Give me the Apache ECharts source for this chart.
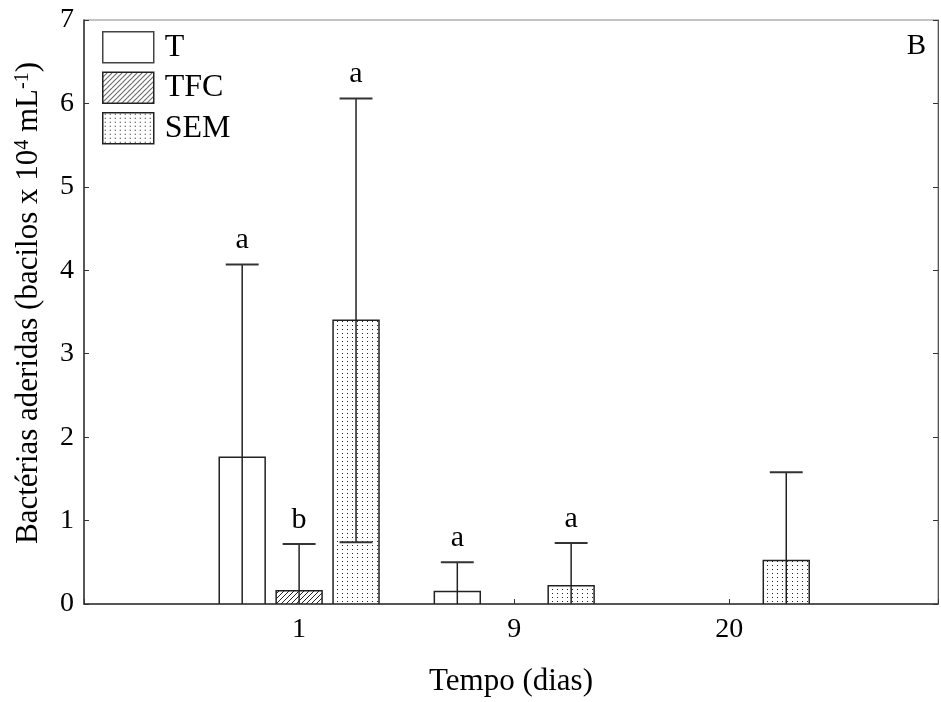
<!DOCTYPE html>
<html><head><meta charset="utf-8">
<script src="https://cdn.jsdelivr.net/npm/echarts@6/dist/echarts.min.js"></script>
<style>html,body{margin:0;padding:0;background:#fff}#c{width:941px;height:702px}</style>
</head><body><div id="c"></div>
<script>
// ---- data ----
const categories = ['1', '9', '20'];
const seriesNames = ['T', 'TFC', 'SEM'];
const valuesT = [1.76, 0.15, 0];
const valuesTFC = [0.16, 0, 0];
const valuesSEM = [3.40, 0.22, 0.52];
const errT = [2.31, 0.35, 0];
const errTFC = [0.56, 0, 0];
const errSEM = [2.66, 0.51, 1.06];
const lettersT = ['a', 'a', ''];
const lettersTFC = ['b', '', ''];
const lettersSEM = ['a', 'a', ''];
const yMin = 0, yMax = 7, yStep = 1;
const panelLabel = 'B';

// ---- patterns ----
function hatchCanvas() {
  const s = 5, c = document.createElement('canvas'); c.width = c.height = s;
  const g = c.getContext('2d');
  g.fillStyle = '#fff'; g.fillRect(0, 0, s, s);
  g.strokeStyle = '#222'; g.lineWidth = 1;
  g.beginPath();
  g.moveTo(-1, s + 1); g.lineTo(s + 1, -1);
  g.moveTo(-1, 1); g.lineTo(1, -1);
  g.moveTo(s - 1, s + 1); g.lineTo(s + 1, s - 1);
  g.stroke();
  return c;
}
function dotCanvas() {
  const c = document.createElement('canvas'); c.width = 5; c.height = 4;
  const g = c.getContext('2d');
  g.fillStyle = '#fff'; g.fillRect(0, 0, 5, 4);
  g.fillStyle = '#222'; g.fillRect(2, 1, 1, 1);
  return c;
}
const fills = ['#ffffff', { image: hatchCanvas(), repeat: 'repeat' }, { image: dotCanvas(), repeat: 'repeat' }];
const FONT = '"Liberation Serif", "Times New Roman", serif';

function makeSeries(idx, vals, errs, letters) {
  return {
    name: seriesNames[idx],
    type: 'custom',
    clip: true,
    itemStyle: { color: fills[idx], borderColor: '#222', borderWidth: 1.5 },
    data: vals.map((v, i) => [i + 1, v, errs[i]]),
    renderItem(params, api) {
      const x = api.value(0), v = api.value(1), e = api.value(2);
      if (!v) return null;
      const letter = letters[params.dataIndex];
      const unit = api.size([1, 0])[0];
      const base = api.coord([x, 0]);
      const cx = base[0] + (idx - 1) * unit * 0.2646;
      const bw = unit * 0.2135;
      const capW = unit * 0.153;
      const y0 = base[1];
      const yv = api.coord([x, v])[1];
      const yTop = api.coord([x, v + e])[1];
      const low = v - e;
      const yLow = api.coord([x, Math.max(low, 0)])[1];
      const children = [
        { type: 'rect', shape: { x: cx - bw / 2, y: yv, width: bw, height: y0 - yv },
          style: { fill: fills[idx], stroke: '#222', lineWidth: 1.5 } }
      ];
      if (e > 0) {
        children.push({ type: 'line', shape: { x1: cx, y1: yTop, x2: cx, y2: yLow }, style: { stroke: '#222', lineWidth: 1.5 } });
        children.push({ type: 'line', shape: { x1: cx - capW / 2, y1: yTop, x2: cx + capW / 2, y2: yTop }, style: { stroke: '#333', lineWidth: 2 } });
        if (low > 0) {
          children.push({ type: 'line', shape: { x1: cx - capW / 2, y1: yLow, x2: cx + capW / 2, y2: yLow }, style: { stroke: '#333', lineWidth: 2 } });
        }
      }
      if (letter) {
        children.push({ type: 'text', style: { text: letter, x: cx, y: yTop - 9, align: 'center', verticalAlign: 'bottom',
          fontSize: 30, fontFamily: FONT, fill: '#000' } });
      }
      return { type: 'group', children };
    }
  };
}

const chart = echarts.init(document.getElementById('c'), null, { renderer: 'canvas' });
chart.setOption({
  animation: false,
  backgroundColor: '#fff',
  textStyle: { fontFamily: FONT, color: '#000' },
  title: { text: panelLabel, right: 10, top: 27, textStyle: { fontFamily: FONT, fontSize: 29, fontWeight: 'normal', color: '#000' } },
  grid: { left: 84, right: 2, top: 20, bottom: 98, show: true, borderColor: '#888', borderWidth: 1, backgroundColor: 'transparent' },
  legend: {
    orient: 'vertical', left: 102, top: 31, padding: 0,
    itemWidth: 51, itemHeight: 31, itemGap: 8, icon: 'rect',
    textStyle: { fontFamily: FONT, fontSize: 32, color: '#000', padding: [0, 0, 0, 6] },
    data: [
      { name: 'T', itemStyle: { color: fills[0], borderColor: '#444', borderWidth: 1.5 } },
      { name: 'TFC', itemStyle: { color: fills[1], borderColor: '#222', borderWidth: 1.5 } },
      { name: 'SEM', itemStyle: { color: fills[2], borderColor: '#222', borderWidth: 1.5 } }
    ]
  },
  xAxis: {
    type: 'value', min: 0, max: 3.97, interval: 1,
    name: 'Tempo (dias)', nameLocation: 'middle', nameGap: 62,
    nameTextStyle: { fontFamily: FONT, fontSize: 31, color: '#000' },
    axisLine: { show: true, onZero: false, lineStyle: { color: '#333', width: 1.5 } },
    axisTick: { show: true, inside: true, length: 5, lineStyle: { color: '#333' } },
    splitLine: { show: false },
    axisLabel: { fontFamily: FONT, fontSize: 28, color: '#000', margin: 12,
      formatter: v => (Number.isInteger(v) && v >= 1 && v <= categories.length) ? categories[v - 1] : '' }
  },
  yAxis: [
    {
      type: 'value', min: yMin, max: yMax, interval: yStep,
      name: 'Bactérias aderidas (bacilos x 10{sup|4} mL{sup|-1})', nameLocation: 'middle', nameGap: 40, nameRotate: 90,
      nameTextStyle: { fontFamily: FONT, fontSize: 31, color: '#000', padding: [0, 0, 0, 18],
        rich: { sup: { fontFamily: FONT, fontSize: 20, color: '#000', verticalAlign: 'top', lineHeight: 18 } } },
      axisLine: { show: true, lineStyle: { color: '#333', width: 1.5 } },
      axisTick: { show: true, inside: true, length: 5, lineStyle: { color: '#333' } },
      splitLine: { show: false },
      axisLabel: { fontFamily: FONT, fontSize: 28, color: '#000', margin: 10 }
    },
    {
      type: 'value', min: yMin, max: yMax, interval: yStep, position: 'right',
      axisLine: { show: true, lineStyle: { color: '#555', width: 1 } },
      axisTick: { show: true, inside: true, length: 5, lineStyle: { color: '#333' } },
      splitLine: { show: false },
      axisLabel: { show: false }
    }
  ],
  series: [
    makeSeries(0, valuesT, errT, lettersT),
    makeSeries(1, valuesTFC, errTFC, lettersTFC),
    makeSeries(2, valuesSEM, errSEM, lettersSEM)
  ]
});
</script>
</body></html>
